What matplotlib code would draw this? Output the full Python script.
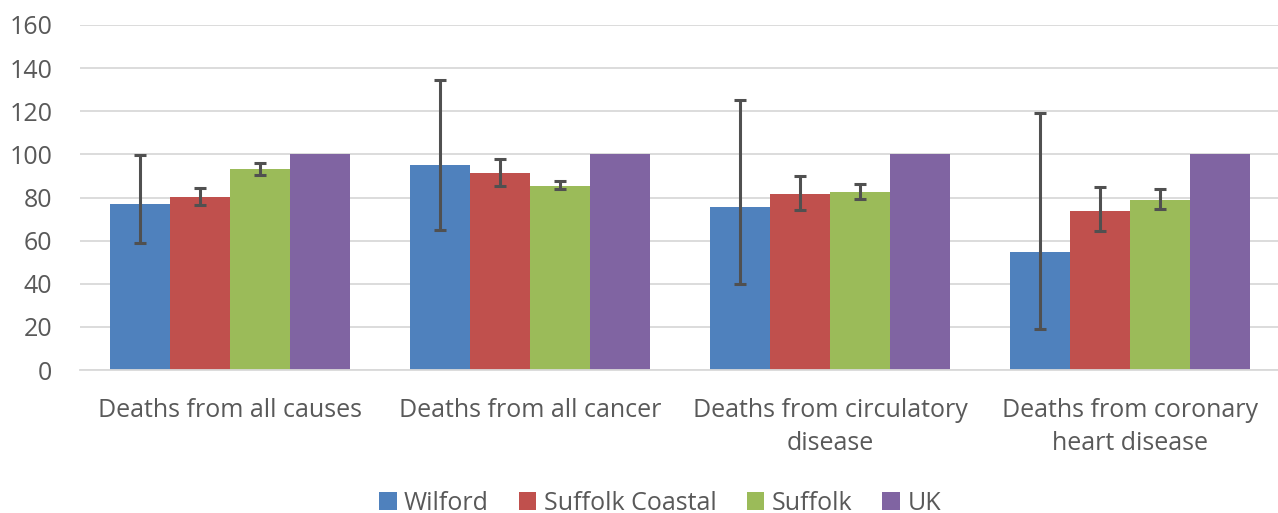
import numpy as np
import matplotlib
matplotlib.use("Agg")
import matplotlib.pyplot as plt

categories = ["Deaths from all causes", "Deaths from all cancer",
              "Deaths from circulatory\ndisease", "Deaths from coronary\nheart disease"]
series = ["Wilford", "Suffolk Coastal", "Suffolk", "UK"]
colors = ["#4f81bd", "#c0504d", "#9bbb59", "#8064a2"]

wilford = [77.1, 94.9, 75.6, 54.7]
wilford_lo = [59.0, 64.9, 39.9, 19.2]
wilford_hi = [99.5, 134.5, 125.3, 119.2]

coastal = [80.4, 91.5, 81.8, 73.9]
coastal_lo = [76.7, 85.3, 74.0, 64.3]
coastal_hi = [84.2, 97.8, 90.1, 84.7]

suffolk = [93.4, 85.5, 82.5, 79.0]
suffolk_lo = [90.6, 83.9, 79.1, 74.7]
suffolk_hi = [96.1, 87.6, 86.1, 83.9]

uk = [100, 100, 100, 100]

values = [wilford, coastal, suffolk, uk]
lows = [wilford_lo, coastal_lo, suffolk_lo, None]
highs = [wilford_hi, coastal_hi, suffolk_hi, None]

plt.rcParams['font.family'] = ['Open Sans', 'DejaVu Sans']
grey = "#595959"

fig = plt.figure(figsize=(12.78, 5.13), dpi=100)
ax = fig.add_axes([80 / 1278, 143 / 513, 1200 / 1278, 345 / 513])

x = np.arange(len(categories))
w = 0.2
for i, (name, vals) in enumerate(zip(series, values)):
    pos = x - 0.3 + i * w
    ax.bar(pos, vals, w, color=colors[i], label=name, zorder=2)
    if lows[i] is not None:
        v = np.array(vals)
        err = [v - np.array(lows[i]), np.array(highs[i]) - v]
        ax.errorbar(pos, v, yerr=err, fmt="none", ecolor="#505050",
                    elinewidth=2.2, capsize=4.5, capthick=2.2, zorder=3)

ax.set_xlim(-0.5, 3.5)
ax.set_ylim(0, 160)
ax.set_yticks(range(0, 161, 20))
ax.yaxis.grid(True, color="#d9d9d9", linewidth=1.3, zorder=0)
ax.set_axisbelow(True)
for s in ["top", "right", "left"]:
    ax.spines[s].set_visible(False)
ax.spines["bottom"].set_color("#d9d9d9")
ax.spines["bottom"].set_linewidth(1.3)
ax.tick_params(axis="both", length=0, labelsize=18, labelcolor=grey)
ax.tick_params(axis="y", pad=20)
ax.tick_params(axis="x", pad=20)
ax.set_xticks(x)
ax.set_xticklabels(categories, linespacing=1.42)

ax.legend(loc="center", bbox_to_anchor=(0.5 - 20 / 1200, -133 / 345), ncol=4,
          frameon=False, fontsize=18, labelcolor=grey, handlelength=0.7,
          handleheight=0.7, handletextpad=0.3, columnspacing=1.2)

fig.savefig("out.png", dpi=100)
